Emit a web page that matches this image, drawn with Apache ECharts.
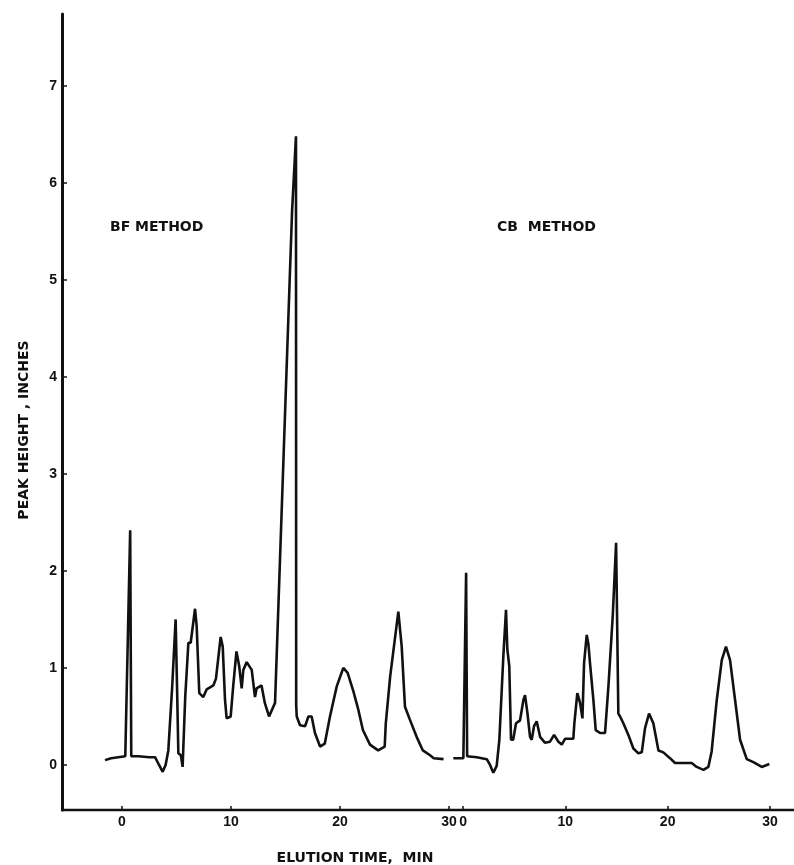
<!DOCTYPE html>
<html>
<head>
<meta charset="utf-8">
<script src="https://cdn.jsdelivr.net/npm/echarts@6/dist/echarts.min.js"></script>
<style>
  html, body { margin: 0; padding: 0; background: #fff; }
  #chart { width: 794px; height: 865px; }
</style>
</head>
<body>
<div id="chart"></div>
<script>
// BF method trace (elution time, min / peak height, inches)
const bfTime = [-1.56, -1.0, 0.3, 0.75, 0.85, 1.5, 2.5, 3.03, 3.4, 3.73, 4.0, 4.25, 4.6, 4.92, 5.05, 5.17, 5.4, 5.56,
    5.8, 6.09, 6.3, 6.7, 6.85, 7.09, 7.46, 7.77, 8.38, 8.62, 9.05, 9.24, 9.45, 9.6, 9.97, 10.2, 10.5, 10.75, 10.98,
    11.13, 11.44, 11.9, 12.2, 12.35, 12.8, 13.1, 13.49, 14.04, 14.2, 15.0, 15.6, 15.96, 15.98, 16.03, 16.33, 16.8,
    17.1, 17.4, 17.7, 18.17, 18.6, 19.08, 19.7, 20.3, 20.7, 21.2, 21.68, 22.1, 22.75, 23.5, 24.1, 24.2, 24.6, 25.35,
    25.66, 25.96, 26.4, 27.03, 27.6, 28.26, 28.6, 29.5];
const bfHeight = [0.05, 0.07, 0.09, 2.42, 0.09, 0.09, 0.08, 0.08, 0.0, -0.07, 0.0, 0.15, 0.8, 1.5, 0.8, 0.12, 0.1, -0.02,
    0.7, 1.26, 1.26, 1.61, 1.43, 0.74, 0.7, 0.78, 0.82, 0.89, 1.32, 1.22, 0.67, 0.48, 0.5, 0.81, 1.17, 1.02, 0.79,
    0.98, 1.06, 0.98, 0.7, 0.79, 0.82, 0.64, 0.5, 0.64, 0.66, 3.76, 5.7, 6.48, 0.62, 0.5, 0.41, 0.4,
    0.5, 0.5, 0.33, 0.19, 0.22, 0.5, 0.81, 1.0, 0.95, 0.77, 0.57, 0.36, 0.21, 0.15, 0.19, 0.43, 0.91, 1.58,
    1.22, 0.6, 0.47, 0.29, 0.15, 0.1, 0.07, 0.06];

// CB method trace
const cbTime = [-0.95, 0.03, 0.3, 0.4, 1.34, 2.32, 2.64, 2.96, 3.29, 3.55, 3.94, 4.2, 4.33, 4.52, 4.69, 4.9, 5.18, 5.57,
    5.9, 6.06, 6.3, 6.55, 6.71, 6.94, 7.2, 7.53, 8.0, 8.5, 8.9, 9.32, 9.65, 9.97, 10.78, 10.88, 11.17, 11.44, 11.67,
    11.83, 12.09, 12.25, 12.41, 12.74, 12.97, 13.39, 13.88, 14.21, 14.63, 14.96, 15.18, 15.35, 15.67, 16.16, 16.65,
    17.14, 17.47, 17.79, 18.18, 18.6, 19.1, 19.58, 20.23, 20.72, 21.5, 22.35, 22.84, 23.5, 23.98, 24.3, 24.8, 25.29,
    25.7, 26.1, 26.59, 27.08, 27.73, 28.38, 29.2, 29.94];
const cbHeight = [0.07, 0.07, 1.98, 0.09, 0.08, 0.06, 0.0, -0.08, -0.01, 0.26, 1.12, 1.6, 1.19, 1.02, 0.26, 0.26, 0.43, 0.46,
    0.67, 0.72, 0.53, 0.29, 0.26, 0.4, 0.45, 0.29, 0.23, 0.24, 0.31, 0.24, 0.21, 0.27, 0.27, 0.43, 0.74, 0.64, 0.48,
    1.05, 1.34, 1.25, 1.05, 0.67, 0.36, 0.33, 0.33, 0.81, 1.53, 2.29, 0.53, 0.5, 0.43, 0.31, 0.17,
    0.12, 0.13, 0.38, 0.53, 0.43, 0.15, 0.13, 0.07, 0.02, 0.02, 0.02, -0.02, -0.05, -0.02, 0.14, 0.67, 1.08,
    1.22, 1.08, 0.67, 0.26, 0.06, 0.03, -0.02, 0.01];

const timeTicks = [0, 10, 20, 30];
const heightTicks = [0, 1, 2, 3, 4, 5, 6, 7];

const chart = echarts.init(document.getElementById('chart'), null, { renderer: 'canvas' });

const ink = '#111';
const tickFont = { color: ink, fontSize: 14, fontWeight: 'bold', fontFamily: 'Liberation Sans' };

function xAxisFor(min, max, showLine) {
    return {
        type: 'value',
        position: 'bottom',
        min: min,
        max: max,
        axisLine: { show: showLine, onZero: false, lineStyle: { color: ink, width: 2.4 } },
        axisTick: { show: true, inside: true, length: 4, customValues: timeTicks, lineStyle: { color: ink, width: 1.5 } },
        axisLabel: Object.assign({ customValues: timeTicks, margin: 5 }, tickFont),
        splitLine: { show: false }
    };
}

const option = {
    animation: false,
    backgroundColor: '#fff',
    grid: { left: 62, right: 0, top: 14, bottom: 55 },
    xAxis: [
        xAxisFor(-5.505, 61.65, true),  // BF time scale
        xAxisFor(-39.2, 32.35, false)   // CB time scale
    ],
    yAxis: {
        type: 'value',
        min: -0.464,
        max: 7.74,
        axisLine: { show: true, onZero: false, lineStyle: { color: ink, width: 3 } },
        axisTick: { show: true, inside: true, length: 5, customValues: heightTicks, lineStyle: { color: ink, width: 1.5 } },
        axisLabel: Object.assign({ customValues: heightTicks, margin: 5 }, tickFont),
        splitLine: { show: false }
    },
    graphic: [
        {
            type: 'text', left: 110, top: 220,
            style: { text: 'BF METHOD', fill: ink, font: 'bold 14px "DejaVu Sans"' }
        },
        {
            type: 'text', left: 497, top: 220,
            style: { text: 'CB  METHOD', fill: ink, font: 'bold 14px "DejaVu Sans"' }
        },
        {
            type: 'text', x: 24, y: 430, rotation: Math.PI / 2,
            style: { text: 'PEAK HEIGHT , INCHES', fill: ink, font: 'bold 14px "DejaVu Sans"', align: 'center', verticalAlign: 'middle' }
        },
        {
            type: 'text', x: 355, y: 858,
            style: { text: 'ELUTION TIME,  MIN', fill: ink, font: 'bold 14px "DejaVu Sans"', align: 'center', verticalAlign: 'middle' }
        }
    ],
    series: [
        {
            name: 'BF METHOD',
            type: 'line',
            xAxisIndex: 0,
            data: bfTime.map((t, i) => [t, bfHeight[i]]),
            showSymbol: false,
            lineStyle: { color: ink, width: 2.6 }
        },
        {
            name: 'CB METHOD',
            type: 'line',
            xAxisIndex: 1,
            data: cbTime.map((t, i) => [t, cbHeight[i]]),
            showSymbol: false,
            lineStyle: { color: ink, width: 2.6 }
        }
    ]
};

chart.setOption(option);
</script>
</body>
</html>
